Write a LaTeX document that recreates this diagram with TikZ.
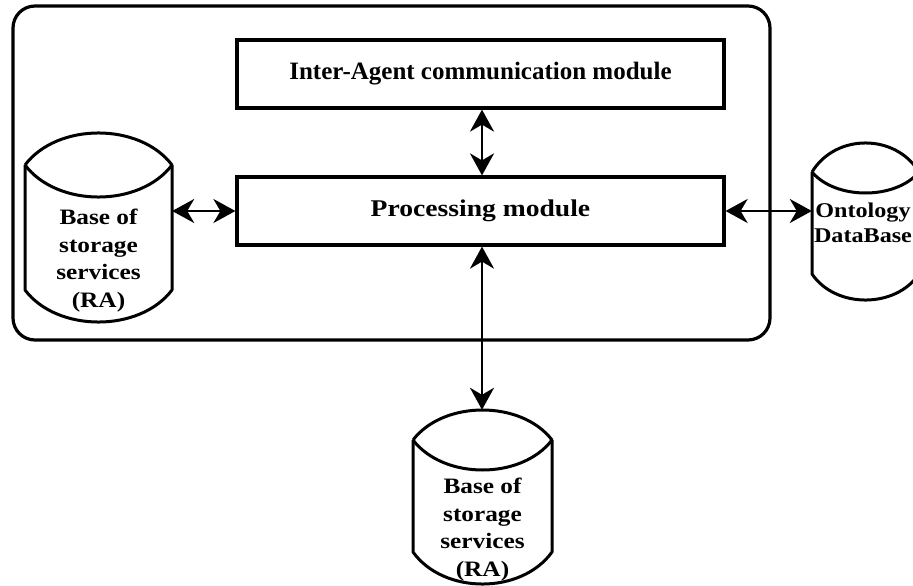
\documentclass[tikz,border=0pt]{standalone}
\usepackage{fontspec}
\setmainfont{Liberation Serif}
\newfontfamily\widefont{Liberation Serif}[FakeStretch=1.15]
\usetikzlibrary{arrows.meta,calc}

\tikzset{
  frame/.style={draw, line width=3.2pt, rounded corners=22pt, inner sep=0pt},
  modbox/.style={draw, line width=3.2pt, minimum width=487pt, minimum height=68pt,
    inner sep=0pt},
  dbline/.style={line width=3pt, line join=round},
  dbbody/.style={inner sep=0pt},
  dbtext/.style={align=center, inner sep=0pt,
    font=\widefont\bfseries\fontsize{22}{27.5}\selectfont},
  link/.style={line width=2.8pt, {Stealth[length=22pt,width=24pt,inset=7pt]}-{Stealth[length=22pt,width=24pt,inset=7pt]}},
}

\begin{document}
\begin{tikzpicture}[x=1pt, y=-1pt]
  \useasboundingbox (0,0) rectangle (913,586);
  \clip (0,0) rectangle (913,586);
  \fill[white] (0,0) rectangle (913,586);

  % agent container
  \node[frame, minimum width=757pt, minimum height=334pt] (agent) at (391.5,173) {};

  % modules
  \node[modbox, font=\bfseries\fontsize{25}{28}\selectfont] (ia) at (480.5,74)
    {Inter-Agent communication module};
  \node[modbox, font=\widefont\bfseries\fontsize{24}{28}\selectfont] (proc) at (480.5,211)
    {Processing module};

  % database drums: body nodes for anchoring
  \node[dbbody, minimum width=147pt, minimum height=189pt] (lcyl) at (98.5,227.5) {};
  \node[dbbody, minimum width=107pt, minimum height=157pt] (rcyl) at (865.5,221.5) {};
  \node[dbbody, minimum width=139pt, minimum height=174pt] (bcyl) at (482.5,497) {};

  % left drum
  \draw[dbline] (25,165) .. controls (57.3,122.3) and (139.7,122.3) .. (172,165)
    .. controls (139.7,207.7) and (57.3,207.7) .. (25,165);
  \draw[dbline] (25,165) -- (25,290) .. controls (57.3,332.7) and (139.7,332.7) .. (172,290) -- (172,165);

  % right drum
  \draw[dbline] (812,172) .. controls (835.5,133.3) and (895.5,133.3) .. (919,172)
    .. controls (895.5,200) and (835.5,200) .. (812,172);
  \draw[dbline] (812,172) -- (812,274) .. controls (835.5,308.7) and (895.5,308.7) .. (919,274) -- (919,172);

  % bottom drum
  \draw[dbline] (413,440) .. controls (443.6,400) and (521.4,400) .. (552,440)
    .. controls (521.4,480) and (443.6,480) .. (413,440);
  \draw[dbline] (413,440) -- (413,552) .. controls (443.6,594.7) and (521.4,594.7) .. (552,552) -- (552,440);

  \node[dbtext, anchor=north] (ltext) at (98.5,209) {Base of\\storage\\services\\(RA)};
  \node[dbtext, anchor=north, font=\widefont\bfseries\fontsize{21}{25}\selectfont] (rtext) at (863,203)
    {Ontology\\DataBase};
  \node[dbtext, anchor=north] (btext) at (482.5,478) {Base of\\storage\\services\\(RA)};

  % connectors
  \draw[link] ([xshift=1.5pt]ia.south) -- ([xshift=1.5pt]proc.north);
  \draw[link] (proc.west) -- (proc.west -| lcyl.east);
  \draw[link] (proc.east) -- (proc.east -| rcyl.west);
  \draw[link] ([xshift=1.5pt]proc.south) -- ([xshift=1.5pt]proc.south |- bcyl.north);
\end{tikzpicture}
\end{document}
